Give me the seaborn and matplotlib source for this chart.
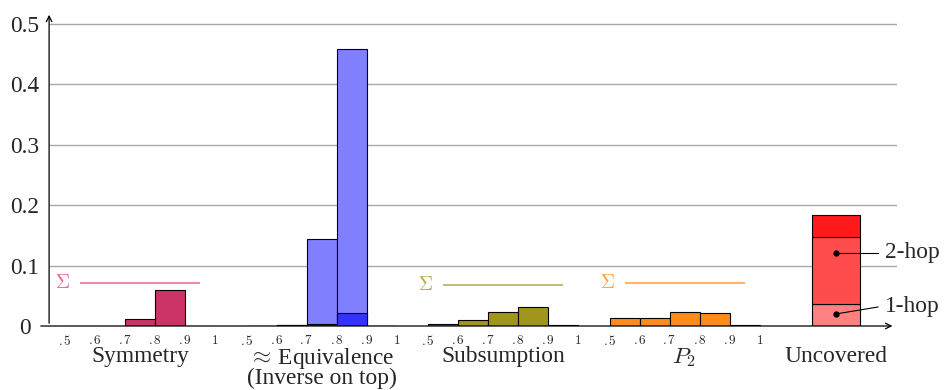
import matplotlib
matplotlib.use("Agg")
import matplotlib.pyplot as plt
import seaborn as sns

# ==========================
# Data
# ==========================

bin_labels = [".5", ".6", ".7", ".8", ".9", "1"]

symmetry = [0.0, 0.0, 0.012, 0.060, 0.0]
equivalence = [0.0, 0.001, 0.003, 0.0215, 0.0]
inverse = [0.0, 0.0, 0.141, 0.4375, 0.0]
subsumption = [0.003, 0.010, 0.023, 0.031, 0.001]
p2 = [0.013, 0.013, 0.024, 0.021, 0.001]

uncovered_parts = [0.037, 0.111, 0.036]   # 1-hop, 2-hop, rest
uncovered_names = ["1-hop", "2-hop", ""]

group_names = ["Symmetry", r"$\approx\,$Equivalence" + "\n(Inverse on top)",
               "Subsumption", "$P_2$", "Uncovered"]

# ==========================
# Style
# ==========================

sns.set_style("white")
plt.rcParams["font.family"] = ["Liberation Serif", "DejaVu Serif"]
plt.rcParams["mathtext.fontset"] = "cm"

fig = plt.figure(figsize=(9.44, 3.9), dpi=100)
ax = fig.add_axes([38 / 944, 1 - 326 / 390, (897 - 38) / 944, (326 - 12) / 390])

offsets = [0.0, 6.05, 12.1, 18.15]
unc_x = 25.7


def draw_hist(values, offset, color):
    centers = [offset + i + 0.5 for i in range(len(values))]
    edges = [offset + i for i in range(len(values) + 1)]
    sns.histplot(x=centers, weights=values, bins=edges, color=color,
                 edgecolor="black", linewidth=0.8, alpha=1, ax=ax, zorder=3)


def draw_sigma(values, offset, color):
    total = sum(values)
    ax.hlines(total, offset + 0.5, offset + 4.5, color=color, lw=1.1, zorder=3)
    ax.text(offset - 0.07, total, r"$\Sigma$", color=color, fontsize=14,
            ha="center", va="center")


# gridlines
ax.hlines([0.1, 0.2, 0.3, 0.4, 0.5], -0.53, 27.73, color="#a8a8a8", lw=1, zorder=0)

# Symmetry
draw_hist(symmetry, offsets[0], "#CC3366")
draw_sigma(symmetry, offsets[0], "#E4689A")

# Equivalence (inverse stacked on top)
equiv_total = [a + b for a, b in zip(equivalence, inverse)]
draw_hist(equiv_total, offsets[1], "#8080FF")
draw_hist(equivalence, offsets[1], "#3333FF")

# Subsumption
draw_hist(subsumption, offsets[2], "#A0961C")
draw_sigma(subsumption, offsets[2], "#B8AC4C")

# P2
draw_hist(p2, offsets[3], "#FF8C1A")
draw_sigma(p2, offsets[3], "#FF9E3A")

# Uncovered stacked bar
unc_colors = ["#FF8080", "#FF4D4D", "#FF1A1A"]
bottom = 0
for part, col in zip(uncovered_parts, unc_colors):
    ax.bar(unc_x, part, width=1.6, bottom=bottom, color=col,
           edgecolor="black", linewidth=0.8, zorder=3)
    bottom += part

# hop annotations
ax.plot([unc_x, 27.1], [0.121, 0.121], color="black", lw=0.8, zorder=4)
ax.plot([unc_x, 27.1], [0.020, 0.0315], color="black", lw=0.8, zorder=4)
ax.plot([unc_x, unc_x], [0.121, 0.020], "o", color="black", ms=3.5, zorder=5)
ax.text(27.33, 0.121, uncovered_names[1], fontsize=16.8, ha="left", va="center")
ax.text(27.33, 0.0315, uncovered_names[0], fontsize=16.8, ha="left", va="center")

# axes arrows
ax.annotate("", xy=(27.67, 0), xytext=(-0.9, 0),
            arrowprops=dict(arrowstyle="->", lw=0.9, color="black"),
            annotation_clip=False, zorder=6)
ax.annotate("", xy=(-0.53, 0.52), xytext=(-0.53, 0),
            arrowprops=dict(arrowstyle="->", lw=0.9, color="black"),
            annotation_clip=False, zorder=6)

# ticks
xt, xl = [], []
for off in offsets:
    for i, lab in enumerate(bin_labels):
        xt.append(off + i)
        xl.append("$" + lab + "$")
ax.set_xticks(xt)
ax.set_xticklabels(xl, fontsize=9.5)
ax.tick_params(axis="x", length=0, pad=5.5)

ax.set_yticks([0, 0.1, 0.2, 0.3, 0.4, 0.5])
ax.set_yticklabels(["0", "0.1", "0.2", "0.3", "0.4", "0.5"], fontsize=16.8)
ax.tick_params(axis="y", length=0, pad=9.4)
for lab in ax.get_yticklabels():
    lab.set_horizontalalignment("center")

# group labels
centers = [off + 2.5 for off in offsets] + [unc_x]
trans = ax.get_xaxis_transform()
for c, name in zip(centers, group_names):
    ax.text(c, 1 - 334 / 314, name, transform=trans, fontsize=16.8,
            ha="center", va="top", multialignment="center", linespacing=0.82)

ax.set_xlim(-0.9, 27.73)
ax.set_ylim(0, 0.52)
ax.set_xlabel("")
ax.set_ylabel("")
for s in ax.spines.values():
    s.set_visible(False)

fig.savefig("out.png", dpi=100)
